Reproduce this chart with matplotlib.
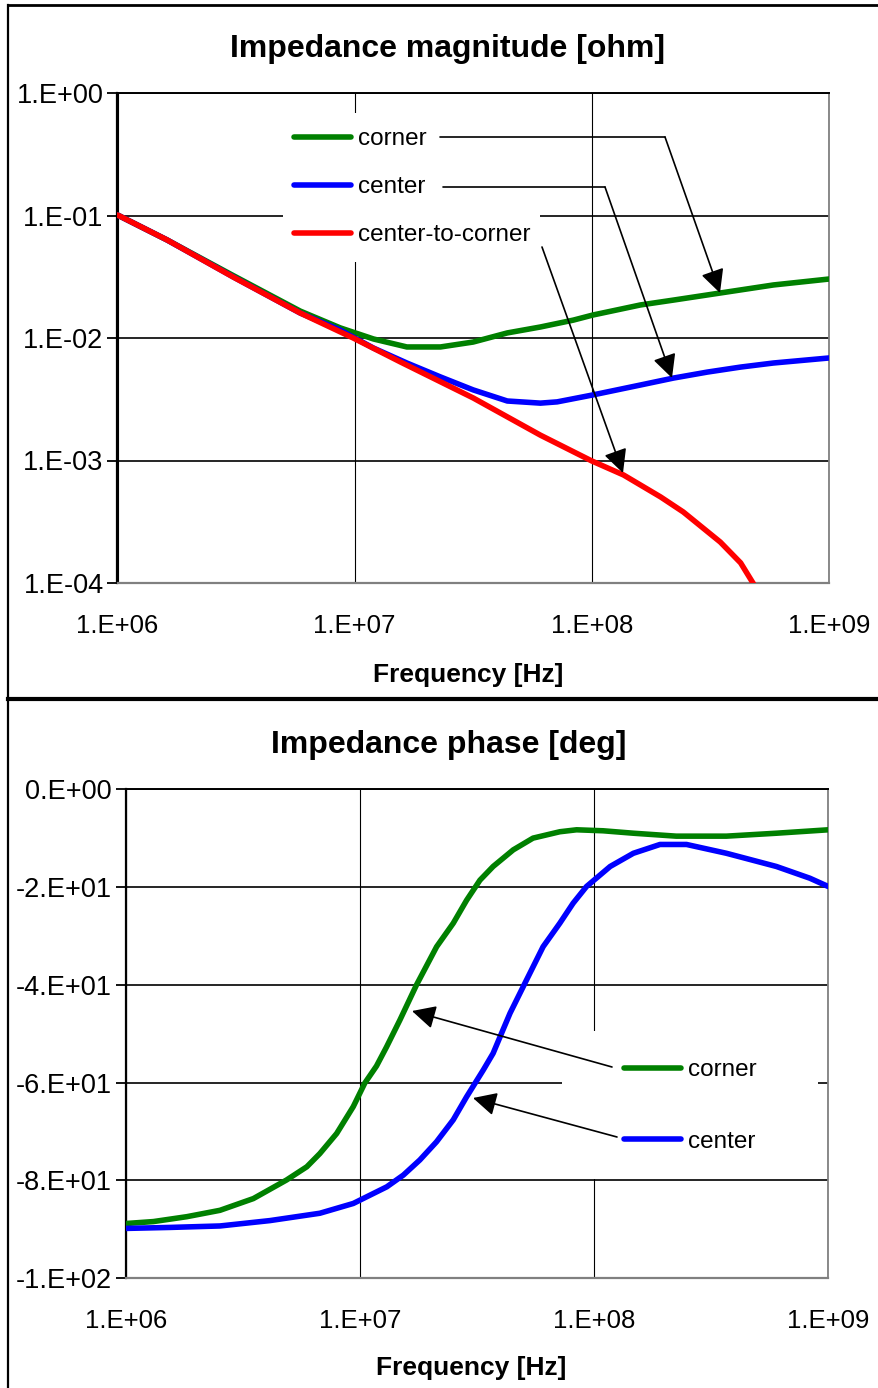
import numpy as np
import matplotlib
matplotlib.use("Agg")
import matplotlib.pyplot as plt
from matplotlib.ticker import FuncFormatter, NullLocator
from matplotlib.lines import Line2D
from matplotlib.patches import Rectangle

plt.rcParams['font.family'] = ['Liberation Sans', 'DejaVu Sans']

# ---------------- data: impedance magnitude [ohm] ----------------
mag_freq_c2c = [1.00e6, 1.62e6, 3.07e6, 5.89e6, 9.86e6, 1.56e7, 3.16e7, 6.07e7,
                1.00e8, 1.36e8, 1.95e8, 2.43e8, 3.48e8, 4.24e8, 4.75e8, 5.25e8]
mag_c2c = [0.101, 0.0631, 0.0315, 0.0160, 0.0100, 0.00637, 0.00324, 0.00161,
           0.000991, 0.000762, 0.000504, 0.000380, 0.000216, 0.000146, 0.000102, 0.000074]

mag_freq_corner = [1.00e6, 1.62e6, 3.07e6, 5.89e6, 8.69e6, 1.20e7, 1.66e7, 2.30e7, 3.16e7,
                   4.40e7, 6.07e7, 8.36e7, 1.01e8, 1.60e8, 2.21e8, 3.48e8, 5.83e8, 1.00e9]
mag_corner = [0.101, 0.0631, 0.0324, 0.0166, 0.0121, 0.00982, 0.00845, 0.00845, 0.00927,
              0.0110, 0.0123, 0.0140, 0.0154, 0.0186, 0.0204, 0.0233, 0.0271, 0.0303]

mag_freq_center = [1.00e6, 1.62e6, 3.07e6, 5.89e6, 8.69e6, 1.20e7, 1.66e7, 2.30e7, 3.16e7,
                   4.40e7, 6.07e7, 7.14e7, 1.01e8, 1.60e8, 2.21e8, 3.07e8, 4.24e8, 5.83e8, 1.00e9]
mag_center = [0.101, 0.0631, 0.0316, 0.0160, 0.0116, 0.00828, 0.00625, 0.00481, 0.00377,
              0.00306, 0.00294, 0.00301, 0.00343, 0.00413, 0.00471, 0.00527, 0.00579, 0.00625, 0.00687]

# ---------------- data: impedance phase [deg] ----------------
ph_freq_corner = [1.00e6, 1.31e6, 1.82e6, 2.52e6, 3.50e6, 4.85e6, 5.92e6, 6.73e6, 7.94e6,
                  9.35e6, 1.047e7, 1.175e7, 1.297e7, 1.479e7, 1.742e7, 2.123e7, 2.50e7,
                  2.851e7, 3.25e7, 3.70e7, 4.51e7, 5.48e7, 7.13e7, 8.41e7, 1.09e8, 1.47e8,
                  2.24e8, 3.67e8, 6.00e8, 1.00e9]
ph_corner = [-88.8, -88.4, -87.4, -86.1, -83.7, -79.9, -77.2, -74.5, -70.4,
             -64.9, -60.1, -56.6, -52.7, -47.2, -40.0, -32.2, -27.4,
             -22.7, -18.6, -15.8, -12.4, -10.0, -8.7, -8.3, -8.5, -9.0,
             -9.6, -9.6, -9.0, -8.3]

ph_freq_center = [1.00e6, 1.54e6, 2.52e6, 4.12e6, 6.73e6, 9.35e6, 1.30e7, 1.53e7, 1.80e7,
                  2.12e7, 2.50e7, 2.85e7, 3.36e7, 3.70e7, 4.02e7, 4.37e7, 5.14e7, 6.05e7,
                  7.13e7, 8.13e7, 9.27e7, 1.17e8, 1.47e8, 1.91e8, 2.48e8, 3.67e8, 6.00e8,
                  8.34e8, 1.00e9]
ph_center = [-89.8, -89.6, -89.3, -88.2, -86.7, -84.7, -81.3, -78.9, -75.8,
             -72.1, -67.6, -62.9, -57.4, -54.0, -49.9, -45.8, -39.0, -32.2,
             -27.4, -23.3, -19.9, -15.8, -13.1, -11.3, -11.3, -13.1, -15.8,
             -18.2, -19.9]

x_ticks = [1e6, 1e7, 1e8, 1e9]
mag_ticks = [1e-4, 1e-3, 1e-2, 1e-1, 1e0]
ph_ticks = [-100, -80, -60, -40, -20, 0]

GREEN, BLUE, RED = '#008000', '#0000FF', '#FF0000'
W, H = 879, 1388
LW = 4.0


def excel_sci(v, pos=None):
    if v == 0:
        return '0.E+00'
    e = int(np.floor(np.log10(abs(v)) + 1e-9))
    m = int(round(v / 10 ** e))
    if abs(m) == 10:
        m //= 10
        e += 1
    return f"{m}.E{e:+03d}"


fig = plt.figure(figsize=(W / 100, H / 100), dpi=100)


def px_axes(l, t, r, b):
    return fig.add_axes([l / W, 1 - b / H, (r - l) / W, (b - t) / H])


def style_axes(ax):
    ax.set_axisbelow(True)
    ax.spines['left'].set_color('black')
    ax.spines['left'].set_linewidth(1.6)
    ax.spines['top'].set_color('black')
    ax.spines['top'].set_linewidth(1.4)
    ax.spines['right'].set_color('#808080')
    ax.spines['right'].set_linewidth(1.3)
    ax.spines['bottom'].set_color('#808080')
    ax.spines['bottom'].set_linewidth(1.6)
    ax.grid(True, axis='y', color='black', lw=1.2)
    ax.grid(True, axis='x', color='black', lw=0.8)
    ax.tick_params(axis='y', direction='out', length=7, width=1.3, pad=3,
                   labelsize=19.5, colors='black')
    ax.tick_params(axis='x', length=0, pad=22, labelsize=18.5)


def fig_px(x, y):
    return (x, H - y)


def connector(ax, p0, p1):
    ax.annotate('', xy=fig_px(*p1), xycoords='figure pixels',
                xytext=fig_px(*p0), textcoords='figure pixels',
                arrowprops=dict(arrowstyle='-', lw=1.2, color='black',
                                shrinkA=0, shrinkB=0), annotation_clip=False)


def arrow(ax, p0, p1):
    ax.annotate('', xy=fig_px(*p1), xycoords='figure pixels',
                xytext=fig_px(*p0), textcoords='figure pixels',
                arrowprops=dict(arrowstyle='-|>,head_length=0.8,head_width=0.4',
                                mutation_scale=18, lw=1.2, color='black',
                                shrinkA=0, shrinkB=0), annotation_clip=False)


def round_handles(leg):
    for h in leg.legend_handles:
        h.set_solid_capstyle('round')
        h.set_linewidth(4.0)


# ---------------- top panel: magnitude ----------------
ax1 = px_axes(117.5, 93, 829, 583)
style_axes(ax1)
ax1.set_xscale('log')
ax1.set_yscale('log')
kw = dict(lw=LW, zorder=3, solid_capstyle='round', solid_joinstyle='round')
l1, = ax1.plot(mag_freq_corner, mag_corner, color=GREEN, label='corner', **kw)
l2, = ax1.plot(mag_freq_center, mag_center, color=BLUE, label='center', **kw)
l3, = ax1.plot(mag_freq_c2c, mag_c2c, color=RED, label='center-to-corner', **kw)
ax1.set_xlim(1e6, 1e9)
ax1.set_ylim(1e-4, 1)
ax1.set_xticks(x_ticks)
ax1.set_yticks(mag_ticks)
ax1.xaxis.set_minor_locator(NullLocator())
ax1.yaxis.set_minor_locator(NullLocator())
ax1.xaxis.set_major_formatter(FuncFormatter(excel_sci))
ax1.yaxis.set_major_formatter(FuncFormatter(excel_sci))

# legend box (white, hides gridlines)
bx0, by0, bx1, by1 = 283, 113, 540, 262
ax1.add_patch(Rectangle(((bx0 - 117.5) / 711.5, (583 - by1) / 490),
                        (bx1 - bx0) / 711.5, (by1 - by0) / 490,
                        transform=ax1.transAxes, facecolor='white', edgecolor='none', zorder=1.5))
leg1 = ax1.legend(handles=[l1, l2, l3], loc='upper left',
                  bbox_to_anchor=((294 - 117.5) / 711.5, (583 - 128) / 490),
                  frameon=False, fontsize=17.5, handlelength=2.35, handletextpad=0.3,
                  labelspacing=1.07, borderpad=0, borderaxespad=0)
round_handles(leg1)

connector(ax1, (440, 137), (665, 137))
arrow(ax1, (665, 137), (720, 293))
connector(ax1, (443, 187), (605, 187))
arrow(ax1, (605, 187), (672, 378))
arrow(ax1, (542, 247), (623, 473))

# ---------------- bottom panel: phase ----------------
ax2 = px_axes(126, 789.2, 828.3, 1278.3)
style_axes(ax2)
ax2.set_xscale('log')
p1, = ax2.plot(ph_freq_corner, ph_corner, color=GREEN, label='corner', **kw)
p2, = ax2.plot(ph_freq_center, ph_center, color=BLUE, label='center', **kw)
ax2.set_xlim(1e6, 1e9)
ax2.set_ylim(-100, 0)
ax2.set_xticks(x_ticks)
ax2.set_yticks(ph_ticks)
ax2.xaxis.set_minor_locator(NullLocator())
ax2.xaxis.set_major_formatter(FuncFormatter(excel_sci))
ax2.yaxis.set_major_formatter(FuncFormatter(excel_sci))

cx0, cy0, cx1, cy1 = 562, 1031, 818, 1179
ax2.add_patch(Rectangle(((cx0 - 126) / 702.3, (1278.3 - cy1) / 489.1),
                        (cx1 - cx0) / 702.3, (cy1 - cy0) / 489.1,
                        transform=ax2.transAxes, facecolor='white', edgecolor='none', zorder=1.5))
leg2 = ax2.legend(handles=[p1, p2], loc='upper left',
                  bbox_to_anchor=((624 - 126) / 702.3, (1278.3 - 1059) / 489.1),
                  frameon=False, fontsize=17.5, handlelength=2.35, handletextpad=0.3,
                  labelspacing=2.04, borderpad=0, borderaxespad=0)
round_handles(leg2)

arrow(ax2, (612, 1067), (412, 1011))
arrow(ax2, (617, 1137), (473, 1098))

# ---------------- titles & axis labels ----------------
fig.text(448 / W, 1 - 49 / H, 'Impedance magnitude [ohm]', ha='center', va='center',
         fontsize=23, fontweight='bold')
fig.text(468 / W, 1 - 675 / H, 'Frequency [Hz]', ha='center', va='center',
         fontsize=19, fontweight='bold')
fig.text(449 / W, 1 - 745 / H, 'Impedance phase [deg]', ha='center', va='center',
         fontsize=23, fontweight='bold')
fig.text(471 / W, 1 - 1368 / H, 'Frequency [Hz]', ha='center', va='center',
         fontsize=19, fontweight='bold')

# ---------------- outer frame & separator ----------------
fig.add_artist(Line2D([8 / W, 8 / W], [0, 1 - 5 / H], color='black', lw=1.6,
                      transform=fig.transFigure))
fig.add_artist(Line2D([8 / W, 1], [1 - 5 / H, 1 - 5 / H], color='black', lw=2.0,
                      transform=fig.transFigure))
fig.add_artist(Line2D([8 / W, 1], [1 - 699 / H, 1 - 699 / H], color='black', lw=3.0,
                      transform=fig.transFigure))

fig.savefig('out.png', dpi=100, facecolor='white')
